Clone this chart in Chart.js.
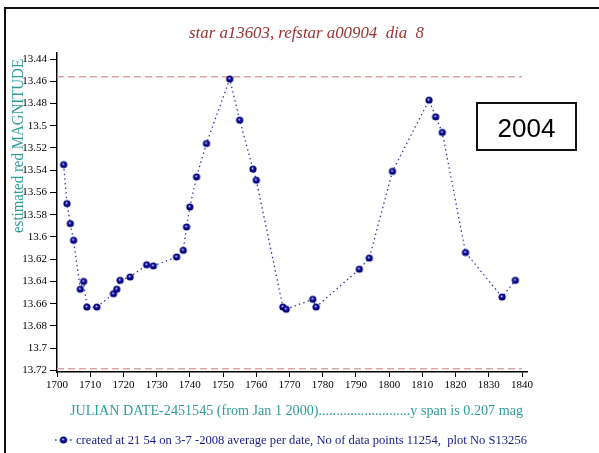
<!DOCTYPE html>
<html><head><meta charset="utf-8">
<script src="https://cdn.jsdelivr.net/npm/chart.js@4"></script>
<style>
html,body{margin:0;padding:0;background:#fff;}
#wrap{position:relative;width:599px;height:453px;overflow:hidden;background:#fff;}
#frame{position:absolute;left:4px;top:7px;width:700px;height:600px;border-left:2px solid #111;border-top:2px solid #111;}
#box{position:absolute;left:476px;top:102px;width:97px;border:2px solid #111;font-family:"Liberation Sans",Arial,sans-serif;font-size:26px;text-align:center;padding-top:4px;box-sizing:content-box;height:41px;line-height:41px;color:#000;}
canvas{position:absolute;left:0;top:0;}
</style></head>
<body>
<div id="wrap">
<canvas id="c" width="599" height="453"></canvas>
<div id="frame"></div>
<div id="box">2004</div>
</div>
<script>
const TITLE = "star a13603, refstar a00904  dia  8";
const Y_TITLE = "estimated red MAGNITUDE";
const X_TITLE = "JULIAN DATE-2451545 (from Jan 1 2000)..........................y span is 0.207 mag";
const LEGEND_TEXT = "created at 21 54 on 3-7 -2008 average per date, No of data points 11254,  plot No S13256";

const days = [1702,1703,1704,1705,1707,1708,1709,1712,1717,1718,1719,1722,1727,1729,1736,1738,1739,1740,1742,1745,1752,1755,1759,1760,1768,1769,1777,1778,1791,1794,1801,1812,1814,1816,1823,1834,1838];
const mags = [13.535,13.570,13.588,13.603,13.647,13.640,13.663,13.663,13.651,13.647,13.639,13.636,13.625,13.626,13.618,13.612,13.591,13.573,13.546,13.516,13.458,13.495,13.539,13.549,13.663,13.665,13.656,13.663,13.629,13.619,13.541,13.477,13.492,13.506,13.614,13.654,13.639];

const refLines = [13.4559, 13.7185];
const refRange = [1700, 1840];

const xTicks = [1700,1710,1720,1730,1740,1750,1760,1770,1780,1790,1800,1810,1820,1830,1840];
const yTicks = [13.44,13.46,13.48,13.5,13.52,13.54,13.56,13.58,13.6,13.62,13.64,13.66,13.68,13.7,13.72];
const yTickLabels = ["13.44","13.46","13.48","13.5","13.52","13.54","13.56","13.58","13.6","13.62","13.64","13.66","13.68","13.7","13.72"];

function sphere(r){
  const c=document.createElement('canvas');
  const s=Math.ceil(r*2+2);
  c.width=s;c.height=s;
  const g=c.getContext('2d');
  const cx=s/2, cy=s/2;
  const grd=g.createRadialGradient(cx-0.6,cy-0.8,0.2,cx,cy,r);
  grd.addColorStop(0,'#ffffff');
  grd.addColorStop(0.25,'#3a3ab8');
  grd.addColorStop(0.6,'#000088');
  grd.addColorStop(1,'#00006a');
  g.fillStyle=grd;
  g.beginPath();g.arc(cx,cy,r,0,Math.PI*2);g.fill();
  return c;
}
const dot = sphere(3.6);

const serif = '"Liberation Serif","Times New Roman",serif';

function fitText(ctx, text, x, y, width){
  const w = ctx.measureText(text).width;
  ctx.save();
  ctx.translate(x, y);
  ctx.scale(width / w, 1);
  ctx.textAlign = 'left';
  ctx.fillText(text, 0, 0);
  ctx.restore();
}

const textPlugin = {
  id:'texts',
  afterDraw(chart){
    const ctx=chart.ctx;
    ctx.save();
    ctx.textBaseline='alphabetic';
    ctx.font='italic 17px '+serif;
    ctx.fillStyle='#9b3434';
    fitText(ctx, TITLE, 189, 38, 235);

    ctx.save();
    ctx.translate(23,233);
    ctx.rotate(-Math.PI/2);
    ctx.font='16px '+serif;
    ctx.fillStyle='#2f9c9c';
    fitText(ctx, Y_TITLE, 0, 0, 174);
    ctx.restore();

    ctx.font='14px '+serif;
    ctx.fillStyle='#2f9c9c';
    fitText(ctx, X_TITLE, 70, 415, 453);

    // legend sample: dotted line with marker
    ctx.save();
    ctx.strokeStyle='#3030b0';
    ctx.lineWidth=1.4;
    ctx.setLineDash([1.6,3.4]);
    ctx.beginPath();ctx.moveTo(55,440);ctx.lineTo(74,440);ctx.stroke();
    ctx.restore();
    ctx.drawImage(dot, 63.5-dot.width/2, 440-dot.height/2);

    ctx.font='12.5px '+serif;
    ctx.fillStyle='#1a1a8c';
    fitText(ctx, LEGEND_TEXT, 76, 444, 451);
    ctx.restore();
  }
};

const pts = days.map((d,i)=>({x:d,y:mags[i]}));
const refSets = refLines.map(v=>({
  data:[{x:refRange[0],y:v},{x:refRange[1],y:v}],
  showLine:true, borderColor:'#dca4a4', borderWidth:1.4, borderDash:[7,4],
  pointRadius:0, order:2
}));

new Chart(document.getElementById('c'),{
  type:'scatter',
  data:{datasets:[
    {data:pts, showLine:true, borderColor:'#3030b0', borderWidth:1.3, borderDash:[1.4,3.2],
     pointStyle:dot, pointRadius:3.6, order:0},
    ...refSets
  ]},
  options:{
    responsive:false, animation:false,
    layout:{padding:{left:0,right:72,top:53,bottom:51}},
    plugins:{legend:{display:false},tooltip:{enabled:false},title:{display:false}},
    scales:{
      x:{type:'linear',min:1700,max:1841.5,
        afterFit(s){s.height=30;},
        afterBuildTicks(s){s.ticks=xTicks.map(v=>({value:v}));},
        ticks:{font:{family:serif,size:11},color:'#000',padding:2,maxRotation:0,autoSkip:false,
          callback:(v,i)=>String(xTicks[i])},
        grid:{display:true,drawOnChartArea:false,drawTicks:true,tickLength:5,color:'#000',lineWidth:1},
        border:{display:true,color:'#000',width:1.5}
      },
      y:{type:'linear',reverse:true,min:13.4346,max:13.7214,
        afterFit(s){s.width=57;},
        afterBuildTicks(s){s.ticks=yTicks.map(v=>({value:v}));},
        ticks:{font:{family:serif,size:11},color:'#000',padding:3,autoSkip:false,
          callback:(v,i)=>yTickLabels[i]},
        grid:{display:true,drawOnChartArea:false,drawTicks:true,tickLength:7,color:'#000',lineWidth:1},
        border:{display:true,color:'#000',width:1.5}
      }
    }
  },
  plugins:[textPlugin]
});
</script>
</body></html>
